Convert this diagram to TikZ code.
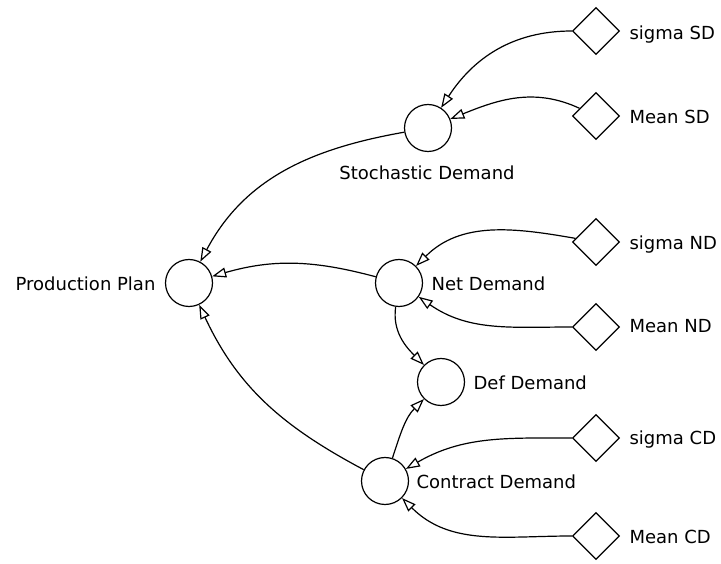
\documentclass[tikz,border=0pt]{standalone}
\usepackage{fontspec}
\setmainfont{DejaVu Sans}
\usetikzlibrary{shapes.geometric,arrows.meta}
\begin{document}
\begin{tikzpicture}[x=1pt,y=1pt,
  line width=1.2pt,
  var/.style={circle,draw,minimum size=47pt,inner sep=0pt},
  const/.style={diamond,draw,minimum width=47pt,minimum height=47pt,inner sep=0pt},
  lbl/.style={inner sep=0pt,font=\fontsize{18}{20}\selectfont},
  link/.style={-{Triangle[length=14pt,width=10pt,fill=white]},line width=1.2pt}]
\useasboundingbox (0,0) rectangle (721,563);

% model variables
\node[var] (PP) at (189,280) {};
\node[var] (SD) at (428,435) {};
\node[var] (ND) at (399,280) {};
\node[var] (DD) at (441,181) {};
\node[var] (CD) at (385,82) {};

% parameters
\node[const] (sigSD)  at (596,532) {};
\node[const] (meanSD) at (596,447) {};
\node[const] (sigND)  at (596,321) {};
\node[const] (meanND) at (596,236) {};
\node[const] (sigCD)  at (596,125) {};
\node[const] (meanCD) at (596,27) {};

% labels
\node[lbl,anchor=base east] (tPP) at (156,272.3) {Production Plan};
\node[lbl,anchor=base] (tSD) at (427,383.7) {Stochastic Demand};
\node[lbl,anchor=base west] (tND) at (431,272.3) {Net Demand};
\node[lbl,anchor=base west] (tDD) at (473,173) {Def Demand};
\node[lbl,anchor=base west] (tCD) at (416,74.7) {Contract Demand};
\node[lbl,anchor=base west] (tsigSD) at (629,523.7) {sigma SD};
\node[lbl,anchor=base west] (tmeanSD) at (629,439) {Mean SD};
\node[lbl,anchor=base west] (tsigND) at (629,313) {sigma ND};
\node[lbl,anchor=base west] (tmeanND) at (629,230.7) {Mean ND};
\node[lbl,anchor=base west] (tsigCD) at (629,118) {sigma CD};
\node[lbl,anchor=base west] (tmeanCD) at (629,19.7) {Mean CD};

% influences
\draw[link] (sigSD)  to[out=180,in=57]  (SD);
\draw[link] (meanSD) to[out=155,in=22]  (SD);
\draw[link] (SD)     to[out=190,in=62]  (PP);
\draw[link] (ND)     to[out=165,in=16]  (PP);
\draw[link] (CD)     to[out=152,in=295] (PP);
\draw[link] (sigND)  to[out=170,in=45]  (ND);
\draw[link] (meanND) to[out=180,in=-35] (ND);
\draw[link] (ND)     to[out=262,in=135] (DD);
\draw[link] (CD)     to[out=72,in=225]  (DD);
\draw[link] (sigCD)  to[out=180,in=30]  (CD);
\draw[link] (meanCD) to[out=180,in=-45] (CD);
\end{tikzpicture}
\end{document}
